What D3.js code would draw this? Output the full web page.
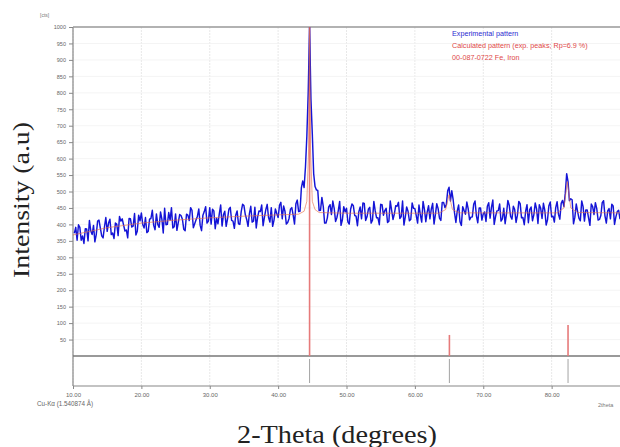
<!DOCTYPE html>
<html><head><meta charset="utf-8">
<script src="https://cdn.jsdelivr.net/npm/d3@7"></script>
<style>body{margin:0;background:#fff}svg{display:block}</style>
</head><body>
<svg id="c" width="620" height="447"></svg>
<script>
// ---- data ----
// experimental counts sampled at 10.2 + 0.4*i (counts) and 10.4 + 0.4*i (countsMid)
const twoThetaStart = 10.2, twoThetaStep = 0.4;
const counts = [
373,352,391,365,387,350,380,397,369,413,
365,392,379,416,374,404,366,410,398,383,
418,392,433,379,411,400,421,379,418,397,
432,391,416,449,400,413,389,432,406,427,
385,431,412,443,402,425,397,428,454,410,
401,441,419,433,395,440,417,452,410,428,
402,439,457,415,433,407,452,422,439,396,
445,421,451,413,433,458,417,440,406,446,
428,463,439,511,512,668,1000,675,515,503,
443,455,404,453,430,449,421,470,414,438,
408,446,457,425,438,417,464,423,452,413,
441,420,461,428,449,410,443,432,455,418,
471,423,440,415,449,427,459,407,446,437,
417,464,430,448,412,467,460,513,502,435,
441,408,454,431,447,422,461,426,450,413,
438,455,419,474,424,442,410,449,432,458,
416,445,428,463,421,440,405,453,429,447,
460,418,443,414,468,425,451,431,464,454,
554,472,475,422,439,411,454,444,420,462,
430,448,415,466,426,441,417,456,423,443];
const countsMid = [
391,399,352,342,386,412,369,347,410,389,
359,421,404,369,357,401,424,417,380,359,
417,395,368,428,435,389,375,416,443,384,
400,438,374,399,436,451,393,382,430,416,
381,428,451,390,414,447,381,439,404,451,
446,387,402,459,429,394,446,412,388,441,
400,461,430,394,455,410,389,441,459,422,
461,407,394,447,421,467,456,401,418,451,
401,474,440,532,575,800,780,554,505,442,
482,404,420,460,471,409,442,397,454,449,
401,462,427,396,453,465,412,446,404,470,
420,399,460,442,406,471,415,457,467,424,
398,453,411,465,448,404,429,470,408,457,
446,401,463,419,467,451,502,471,475,406,
459,397,442,468,414,423,471,405,450,432,
409,466,452,400,441,462,417,402,473,424,
455,406,470,420,399,460,445,411,465,403,
449,464,398,457,423,407,469,416,473,495,
530,478,402,462,418,471,410,444,397,454,
466,413,427,472,404,448,461,400,439,416];
const calcTheta  = [10,15,20,25,30,35,40,43,43.8,44.2,44.45,44.6,44.75,45.0,45.4,46,50,63.5,64.5,65.0,65.5,66.5,80.8,81.8,82.3,82.8,83.8,90];
const calcCounts = [368,390,404,413,420,425,429,431,440,470,620,1000,620,470,445,436,434,434,445,490,445,435,435,450,530,450,436,435];
const stickTheta  = [44.6, 65.05, 82.4];
const stickHeight = [1000, 64, 94];
const xTicks = [10,20,30,40,50,60,70,80];
const yTicks = d3.range(50, 1001, 50);
const legendItems = ["Experimental pattern","Calculated pattern (exp. peaks; Rp=6.9 %)","00-087-0722 Fe, Iron"];
const legendColors = ["#2a2ad0","#e04848","#e04848"];

// ---- layout ----
const svg = d3.select("#c");
const x = d3.scaleLinear().domain([10, 90]).range([73, 620]);
const y = d3.scaleLinear().domain([0, 1000]).range([356, 27]);
const yTop = 27, yZero = 356, yBottom = 386;

// grid
svg.append("g").selectAll("line").data(xTicks).join("line")
  .attr("x1", d => x(d)).attr("x2", d => x(d)).attr("y1", yTop).attr("y2", yBottom)
  .attr("stroke", "#e2e2e2").attr("stroke-width", 0.8).attr("stroke-dasharray", "2,1");
svg.append("g").selectAll("line").data(yTicks.slice(0, -1)).join("line")
  .attr("x1", x(10)).attr("x2", 620).attr("y1", d => y(d)).attr("y2", d => y(d))
  .attr("stroke", "#f1f1f1").attr("stroke-width", 0.8);

// y axis
const ya = svg.append("g").attr("transform", `translate(${x(10)},0)`)
  .call(d3.axisLeft(y).tickValues(yTicks).tickSize(4).tickPadding(3).tickFormat(d3.format("d")));
ya.select(".domain").remove();
ya.selectAll("line").attr("stroke", "#888");
ya.selectAll("text").attr("font-family", "Liberation Sans, Arial").attr("font-size", 5.5).attr("fill", "#666");
svg.append("line").attr("x1", x(10)).attr("x2", x(10)).attr("y1", yTop).attr("y2", yBottom)
  .attr("stroke", "#888").attr("stroke-width", 1.2);
svg.append("text").attr("x", 40).attr("y", 17).text("[cts]")
  .attr("font-family", "Liberation Sans, Arial").attr("font-size", 5).attr("fill", "#777");

// x axis
const xa = svg.append("g").attr("transform", `translate(0,${yBottom})`)
  .call(d3.axisBottom(x).tickValues(xTicks).tickSize(3).tickPadding(4).tickFormat(d3.format(".2f")));
xa.select(".domain").remove();
xa.selectAll("line").attr("stroke", "#888");
xa.selectAll("text").attr("font-family", "Liberation Sans, Arial").attr("font-size", 6).attr("fill", "#666");
svg.append("line").attr("x1", x(10)).attr("x2", 620).attr("y1", yBottom).attr("y2", yBottom)
  .attr("stroke", "#888").attr("stroke-width", 1.2);
svg.append("line").attr("x1", x(10)).attr("x2", 620).attr("y1", yZero).attr("y2", yZero)
  .attr("stroke", "#777").attr("stroke-width", 1.3);
svg.append("line").attr("x1", x(10)).attr("x2", 620).attr("y1", yTop).attr("y2", yTop)
  .attr("stroke", "#999").attr("stroke-width", 1.5);
svg.append("text").attr("x", 37).attr("y", 406).text("Cu-K\u03B1 (1.540874 \u00C5)")
  .attr("font-family", "Liberation Sans, Arial").attr("font-size", 6.3).attr("fill", "#666");
svg.append("text").attr("x", 598).attr("y", 407).text("2theta")
  .attr("font-family", "Liberation Sans, Arial").attr("font-size", 5.5).attr("fill", "#777");

// sticks (reference pattern) in main panel
svg.append("g").selectAll("line").data(stickTheta).join("line")
  .attr("x1", d => x(d)).attr("x2", d => x(d))
  .attr("y1", y(0)).attr("y2", (d, i) => y(stickHeight[i]))
  .attr("stroke", "#e67a7a").attr("stroke-width", 1.6);
// markers in lower panel
svg.append("g").selectAll("line").data(stickTheta).join("line")
  .attr("x1", d => x(d)).attr("x2", d => x(d))
  .attr("y1", yZero + 3).attr("y2", yBottom - 3)
  .attr("stroke", "#999").attr("stroke-width", 0.9);

// experimental pattern (interleave the two sample grids)
const expData = [];
counts.forEach((c, i) => {
  expData.push([twoThetaStart + i * twoThetaStep, c]);
  expData.push([twoThetaStart + twoThetaStep / 2 + i * twoThetaStep, countsMid[i]]);
});
svg.append("clipPath").attr("id", "pc").append("rect")
  .attr("x", x(10)).attr("y", yTop).attr("width", 620 - x(10)).attr("height", yZero - yTop);
const line = d3.line().x(d => x(d[0])).y(d => y(d[1]));
svg.append("path").datum(expData).attr("d", line).attr("clip-path", "url(#pc)")
  .attr("fill", "none").attr("stroke", "#1414d6").attr("stroke-width", 1.45).attr("stroke-linejoin", "round");
// calculated pattern
svg.append("path").datum(calcTheta.map((t, i) => [t, calcCounts[i]])).attr("d", line)
  .attr("clip-path", "url(#pc)")
  .attr("fill", "none").attr("stroke", "#e8704a").attr("stroke-width", 0.8).attr("opacity", 0.8);

// legend
svg.append("g").selectAll("text").data(legendItems).join("text")
  .attr("x", 452).attr("y", (d, i) => 36 + i * 12).text(d => d)
  .attr("fill", (d, i) => legendColors[i])
  .attr("font-family", "Liberation Sans, Arial").attr("font-size", 7.2);

// titles
svg.append("text").attr("x", 337).attr("y", 443).attr("text-anchor", "middle")
  .attr("font-family", "Liberation Serif, Times New Roman, serif").attr("font-size", 25)
  .attr("textLength", 200).attr("lengthAdjust", "spacingAndGlyphs")
  .attr("fill", "#222").text("2-Theta (degrees)");
svg.append("text").attr("transform", "translate(29,200) rotate(-90)").attr("text-anchor", "middle")
  .attr("font-family", "Liberation Serif, Times New Roman, serif").attr("font-size", 24)
  .attr("textLength", 156).attr("lengthAdjust", "spacingAndGlyphs")
  .attr("fill", "#222").text("Intensity (a.u)");
</script>
</body></html>
